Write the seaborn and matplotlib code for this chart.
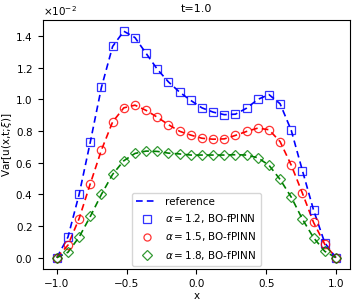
import numpy as np
import pandas as pd
import seaborn as sns
import matplotlib
matplotlib.use("Agg")
import matplotlib.pyplot as plt

# puntos de la malla (26 puntos entre -1 y 1)
x = np.round(np.linspace(-1.0, 1.0, 26), 2)

# valores (escala x1e-2)
var_12 = [0.0, 0.13, 0.40, 0.73, 1.076, 1.334, 1.43, 1.39, 1.29, 1.19, 1.11, 1.045, 0.993,
          0.946, 0.919, 0.903, 0.906, 0.944, 0.999, 1.03, 0.972, 0.804, 0.55, 0.30, 0.094, 0.0]
var_15 = [0.0, 0.079, 0.247, 0.467, 0.68, 0.857, 0.946, 0.963, 0.93, 0.887, 0.84, 0.798, 0.774,
          0.754, 0.748, 0.75, 0.772, 0.797, 0.818, 0.808, 0.733, 0.584, 0.407, 0.222, 0.085, 0.0]
var_18 = [0.0, 0.034, 0.13, 0.26, 0.40, 0.526, 0.612, 0.658, 0.673, 0.671, 0.66, 0.655, 0.648,
          0.648, 0.648, 0.648, 0.65, 0.648, 0.631, 0.584, 0.494, 0.382, 0.243, 0.126, 0.04, 0.0]

ref_12 = list(var_12)
ref_15 = list(var_15)
ref_18 = list(var_18)

alfas = ["1.2", "1.5", "1.8"]
colores = ["blue", "red", "green"]
marcadores = ["s", "o", "D"]

plt.rcParams["font.family"] = ["DejaVu Sans"]
plt.rcParams["font.size"] = 7.5

fig, ax = plt.subplots(figsize=(3.57, 3.06), dpi=100)
fig.subplots_adjust(left=0.12, right=0.98, bottom=0.121, top=0.935)

refs = [ref_12, ref_15, ref_18]
vals = [var_12, var_15, var_18]

for k, (ref, c) in enumerate(zip(refs, colores)):
    df = pd.DataFrame({"x": x, "y": np.array(ref) * 1e-2})
    sns.lineplot(data=df, x="x", y="y", ax=ax, color=c, linewidth=1.2,
                 dashes=False, label="reference" if k == 0 else None)
    ax.lines[-1].set_dashes((4, 2.5))

for a, v, c, m in zip(alfas, vals, colores, marcadores):
    ax.plot(x, np.array(v) * 1e-2, linestyle="none", marker=m, markersize=6 if m != "D" else 5.5,
            markerfacecolor="none", markeredgecolor=c, markeredgewidth=0.9, alpha=0.8,
            label=rf"$\alpha={a}$, BO-fPINN")

ax.ticklabel_format(axis="y", style="sci", scilimits=(0, 0), useMathText=True)
ax.set_xticks([-1.0, -0.5, 0.0, 0.5, 1.0])
ax.set_xlabel("x", labelpad=2)
ax.set_ylabel(r"Var[u(x,t;$\xi$)]", labelpad=1)
ax.set_title("t=1.0", fontsize=8)
ax.legend(loc="lower center", fontsize=7.5, handlelength=2.0, borderaxespad=0.3,
          markerscale=0.85)

plt.savefig("out.png", dpi=100)
plt.close()
